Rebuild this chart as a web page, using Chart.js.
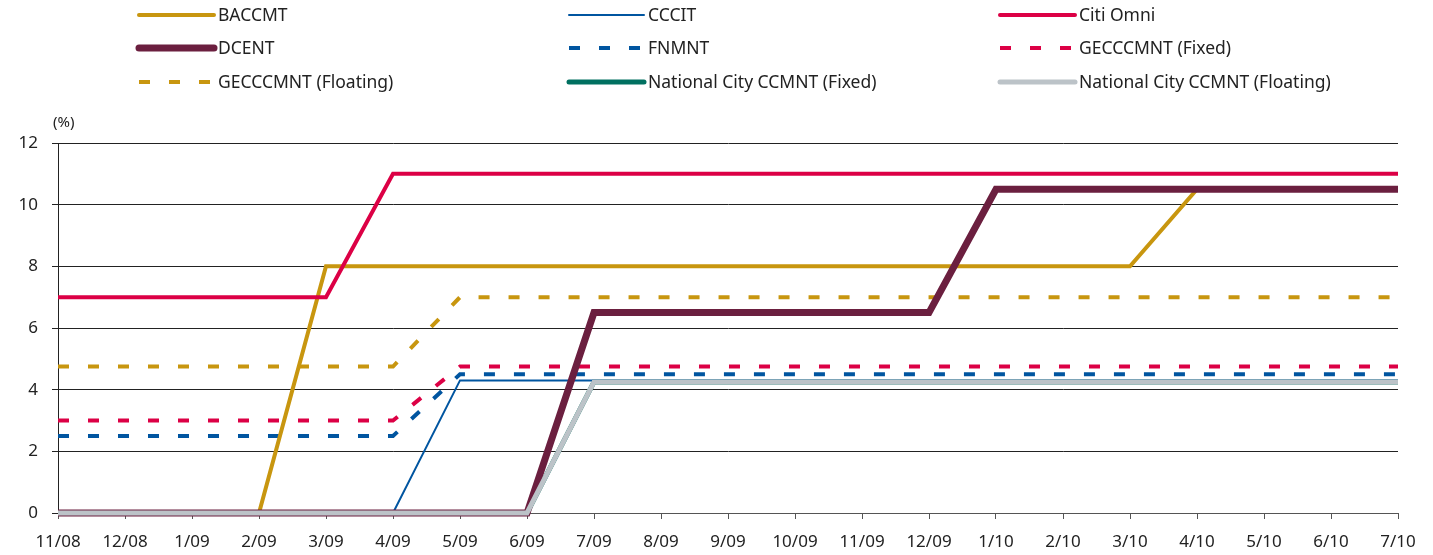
<!DOCTYPE html>
<html lang="en">
<head>
<meta charset="UTF-8">
<title>Card rates</title>
<script src="https://cdn.jsdelivr.net/npm/chart.js"></script>
<style>
  html, body { margin: 0; padding: 0; background: #fff; }
  #wrap { position: relative; width: 1433px; height: 555px; }
</style>
</head>
<body>
<div id="wrap"><canvas id="rates"></canvas></div>
<script>
// months on the x axis
const months = ['11/08', '12/08', '1/09', '2/09', '3/09', '4/09', '5/09', '6/09', '7/09', '8/09', '9/09',
  '10/09', '11/09', '12/09', '1/10', '2/10', '3/10', '4/10', '5/10', '6/10', '7/10'];

// rates in %, one per month
const baccmt     = [0, 0, 0, 0, 8, 8, 8, 8, 8, 8, 8, 8, 8, 8, 8, 8, 8, 10.5, 10.5, 10.5, 10.5];
const cccit      = [0, 0, 0, 0, 0, 0, 4.3, 4.3, 4.3, 4.3, 4.3, 4.3, 4.3, 4.3, 4.3, 4.3, 4.3, 4.3, 4.3, 4.3, 4.3];
const citiOmni   = [7, 7, 7, 7, 7, 11, 11, 11, 11, 11, 11, 11, 11, 11, 11, 11, 11, 11, 11, 11, 11];
const dcent      = [0, 0, 0, 0, 0, 0, 0, 0, 6.5, 6.5, 6.5, 6.5, 6.5, 6.5, 10.5, 10.5, 10.5, 10.5, 10.5, 10.5, 10.5];
const fnmnt      = [2.5, 2.5, 2.5, 2.5, 2.5, 2.5, 4.5, 4.5, 4.5, 4.5, 4.5, 4.5, 4.5, 4.5, 4.5, 4.5, 4.5, 4.5, 4.5, 4.5, 4.5];
const gecFixed   = [3, 3, 3, 3, 3, 3, 4.75, 4.75, 4.75, 4.75, 4.75, 4.75, 4.75, 4.75, 4.75, 4.75, 4.75, 4.75, 4.75, 4.75, 4.75];
const gecFloat   = [4.75, 4.75, 4.75, 4.75, 4.75, 4.75, 7, 7, 7, 7, 7, 7, 7, 7, 7, 7, 7, 7, 7, 7, 7];
const natCityFix = [0, 0, 0, 0, 0, 0, 0, 0, 4.25, 4.25, 4.25, 4.25, 4.25, 4.25, 4.25, 4.25, 4.25, 4.25, 4.25, 4.25, 4.25];
const natCityFlt = [0, 0, 0, 0, 0, 0, 0, 0, 4.25, 4.25, 4.25, 4.25, 4.25, 4.25, 4.25, 4.25, 4.25, 4.25, 4.25, 4.25, 4.25];

const FONT = '"Noto Sans", sans-serif';
const DASH = [11, 19];

function line(label, data, color, width, dashed, order) {
  return {
    label: label, data: data, borderColor: color, backgroundColor: color,
    borderWidth: width, borderDash: dashed ? DASH : [], borderCapStyle: 'butt',
    borderJoinStyle: 'miter', pointRadius: 0, tension: 0, fill: false,
    clip: false, order: order
  };
}

const datasets = [
  line('BACCMT', baccmt, '#C8960F', 4, false, 3),
  line('CCCIT', cccit, '#0055A0', 2, false, 7),
  line('Citi Omni', citiOmni, '#DC0045', 4, false, 2),
  line('DCENT', dcent, '#6B1F3F', 7, false, 1),
  line('FNMNT', fnmnt, '#0055A0', 4, true, 5),
  line('GECCCMNT (Fixed)', gecFixed, '#DC0045', 4, true, 5),
  line('GECCCMNT (Floating)', gecFloat, '#C8960F', 4, true, 4),
  line('National City CCMNT (Fixed)', natCityFix, '#007060', 5, false, 8),
  line('National City CCMNT (Floating)', natCityFlt, '#BCC3C8', 5, false, 0)
];

// legend in three columns, plus the (%) unit label
const legendPlugin = {
  id: 'gridLegend',
  afterDraw(chart) {
    const ctx = chart.ctx;
    const cols = [137, 567, 998];
    const rows = [15, 48, 82];
    ctx.save();
    chart.data.datasets.forEach((ds, i) => {
      const x = cols[i % 3];
      const y = rows[Math.floor(i / 3)];
      ctx.strokeStyle = ds.borderColor;
      ctx.lineWidth = ds.borderWidth;
      ctx.lineCap = ds.borderDash.length ? 'butt' : 'round';
      ctx.setLineDash(ds.borderDash);
      ctx.beginPath();
      ctx.moveTo(x + 2, y);
      ctx.lineTo(x + 77, y);
      ctx.stroke();
      ctx.setLineDash([]);
      ctx.fillStyle = '#222';
      ctx.font = '17.5px ' + FONT;
      ctx.textBaseline = 'middle';
      ctx.textAlign = 'left';
      ctx.fillText(ds.label, x + 81, y + 1);
    });
    ctx.font = '15px ' + FONT;
    ctx.fillText('(%)', 53, 123);
    ctx.restore();
  }
};

new Chart(document.getElementById('rates'), {
  type: 'line',
  data: { labels: months, datasets: datasets },
  options: {
    responsive: true,
    maintainAspectRatio: false,
    animation: false,
    layout: { padding: { top: 143, right: 35, left: 0, bottom: 0 } },
    plugins: { legend: { display: false }, tooltip: { enabled: false } },
    scales: {
      x: {
        offset: false,
        grid: { drawOnChartArea: false, drawTicks: true, tickLength: 6, color: '#555' },
        border: { color: '#555', width: 1 },
        ticks: { color: '#222', font: { family: FONT, size: 17 }, padding: 13, maxRotation: 0, autoSkip: false },
        afterFit(scale) { scale.height = 42; }
      },
      y: {
        min: 0, max: 12,
        grid: { color: '#222', tickLength: 6, lineWidth: 1 },
        border: { color: '#222', width: 1 },
        ticks: { stepSize: 2, color: '#222', font: { family: FONT, size: 17 }, padding: 14 },
        afterFit(scale) { scale.width = 58; }
      }
    }
  },
  plugins: [legendPlugin]
});
</script>
</body>
</html>
